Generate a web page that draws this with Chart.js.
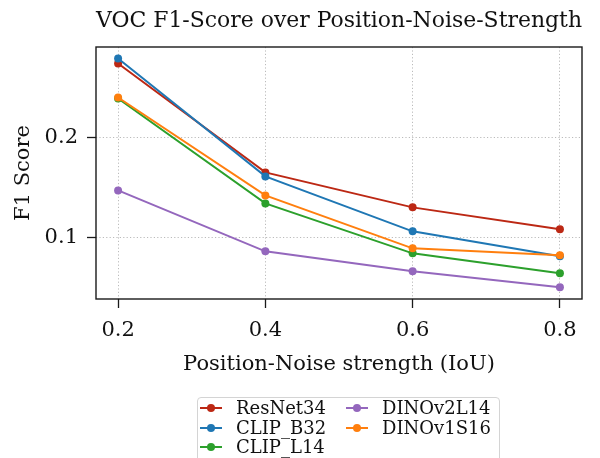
<!DOCTYPE html>
<html>
<head>
<meta charset="utf-8">
<script src="https://cdn.jsdelivr.net/npm/chart.js@4/dist/chart.umd.min.js"></script>
<style>
    body { margin: 0; background: #fff; }
    #wrap { position: relative; width: 600px; height: 458px; overflow: hidden; }
    #legend {
        position: absolute; left: 197px; top: 397px; width: 301px; height: 80px;
        border: 1.5px solid #d4d4d4; border-radius: 4px; background: #fff;
        font-family: "DejaVu Serif", serif; font-size: 18px; color: #111;
    }
    .item { position: absolute; height: 20px; line-height: 20px; white-space: nowrap; }
    .mark { position: absolute; left: 0; top: 9px; width: 22px; height: 2px; }
    .dot { position: absolute; left: 7px; top: -3px; width: 8px; height: 8px; border-radius: 50%; }
    .txt { position: absolute; top: 0; }
</style>
</head>
<body>
<div id="wrap">
    <canvas id="chart" width="600" height="458"></canvas>
    <div id="legend"></div>
</div>
<script>
// x values (IoU) and F1 scores per model
var noise = [0.2, 0.4, 0.6, 0.8]
var resnet34 = [0.274, 0.165, 0.130, 0.108]
var clipB32 = [0.279, 0.161, 0.106, 0.081]
var clipL14 = [0.239, 0.134, 0.084, 0.064]
var dinov2L14 = [0.147, 0.086, 0.066, 0.050]
var dinov1S16 = [0.240, 0.142, 0.089, 0.082]

var names = ['ResNet34', 'CLIP_B32', 'CLIP_L14', 'DINOv2L14', 'DINOv1S16']
var series = [resnet34, clipB32, clipL14, dinov2L14, dinov1S16]
var colors = ['#bc2814', '#1f77b4', '#2ca02c', '#9467bd', '#ff7f0e']

var xTicks = [0.2, 0.4, 0.6, 0.8]
var yTicks = [0.1, 0.2]

const serif = (size) => ({ family: '"DejaVu Serif", serif', size: size, lineHeight: 1.2 })

const datasets = series.map((vals, i) => ({
    label: names[i],
    data: vals.map((v, j) => ({ x: noise[j], y: v })),
    borderColor: colors[i],
    backgroundColor: colors[i],
    borderWidth: 2,
    pointRadius: 4,
    pointBorderWidth: 0,
    order: series.length - i   // later series on top, like matplotlib
}))

// matplotlib-like frame around the axes
const frame = {
    id: 'frame',
    afterDatasetsDraw(chart) {
        const a = chart.chartArea, ctx = chart.ctx
        ctx.save()
        ctx.strokeStyle = '#1a1a1a'
        ctx.lineWidth = 1.4
        ctx.strokeRect(a.left, a.top, a.right - a.left, a.bottom - a.top)
        ctx.restore()
    }
}

const grid = {
    color: '#b3b3b3',
    lineWidth: 0.9,
    tickLength: 9,
    tickColor: '#1a1a1a',
    tickWidth: 1.3,
    tickBorderDash: []
}

new Chart('chart', {
    type: 'line',
    data: { datasets: datasets },
    plugins: [frame],
    options: {
        responsive: false,
        animation: false,
        layout: { padding: { left: 0, right: 18, top: 0, bottom: 79 } },
        plugins: {
            legend: { display: false },
            tooltip: { enabled: false },
            title: {
                display: true,
                fullSize: false,
                text: 'VOC F1-Score over Position-Noise-Strength',
                color: '#111',
                font: Object.assign(serif(22), { weight: 'normal' }),
                padding: { top: 8, bottom: 12.6 }
            }
        },
        scales: {
            x: {
                type: 'linear',
                min: 0.17,
                max: 0.83,
                afterBuildTicks: (s) => { s.ticks = xTicks.map(v => ({ value: v })) },
                afterFit: (s) => { s.height = 80 },
                ticks: { color: '#111', font: serif(21), padding: 10, callback: (v) => v.toFixed(1) },
                grid: grid,
                border: { display: false, dash: [1.2, 2.2] },
                title: {
                    display: true,
                    text: 'Position-Noise strength (IoU)',
                    color: '#111',
                    font: serif(21),
                    padding: { top: 0, bottom: 2 }
                }
            },
            y: {
                type: 'linear',
                min: 0.0383,
                max: 0.2905,
                afterBuildTicks: (s) => { s.ticks = yTicks.map(v => ({ value: v })) },
                afterFit: (s) => { s.width = 96 },
                ticks: { color: '#111', font: serif(21), padding: 9, callback: (v) => v.toFixed(1) },
                grid: grid,
                border: { display: false, dash: [1.2, 2.2] },
                title: {
                    display: true,
                    text: 'F1 Score',
                    color: '#111',
                    font: serif(21),
                    padding: { top: 11, bottom: 0 }
                }
            }
        }
    }
})

/*
 * legend in two columns, filled column by column
 */
const legend = document.getElementById('legend')
const perCol = 3
names.forEach((name, i) => {
    const col = Math.floor(i / perCol), row = i % perCol
    const item = document.createElement('div')
    item.className = 'item'
    item.style.left = (2 + col * 146) + 'px'
    item.style.top = (row * 19.5) + 'px'
    item.innerHTML = '<div class="mark" style="background:' + colors[i] + '"><div class="dot" style="background:' + colors[i] + '"></div></div>' +
        '<span class="txt" style="left:36px">' + name + '</span>'
    legend.appendChild(item)
})
</script>
</body>
</html>
